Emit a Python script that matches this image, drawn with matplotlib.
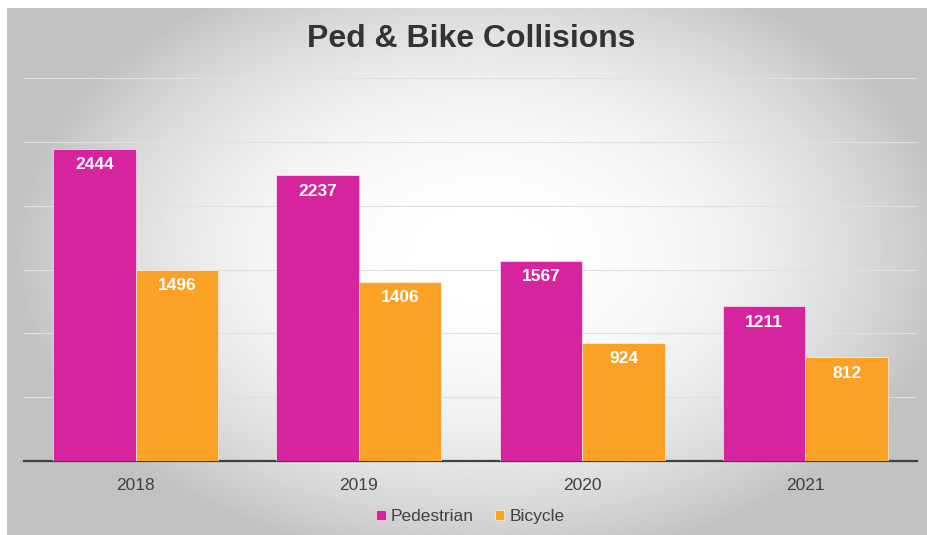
import numpy as np
import matplotlib.pyplot as plt

years = ["2018", "2019", "2020", "2021"]
pedestrian = [2444, 2237, 1567, 1211]
bicycle = [1496, 1406, 924, 812]

ped_color = "#d6249f"
bike_color = "#fba226"

plt.rcParams["font.family"] = ["Liberation Sans", "DejaVu Sans"]

fig = plt.figure(figsize=(9.28, 5.35), dpi=100)

# radial gradient background of the chart frame
bg = fig.add_axes([0.008, 0.0, 0.992, 0.985], zorder=-1)
yy, xx = np.mgrid[0:535, 0:928]
d = np.sqrt(((xx - 480) / 540.0) ** 2 + ((yy - 250) / 360.0) ** 2)
shade = np.clip(1.0 - 0.32 * d ** 2.2, 0.76, 1.0)
bg.imshow(shade, cmap="gray", vmin=0, vmax=1, aspect="auto", extent=[0, 1, 0, 1])
bg.set_axis_off()

ax = fig.add_axes([24 / 928, 1 - 461 / 535, 893 / 928, 383 / 535])
ax.patch.set_alpha(0)

x = np.arange(len(years))
w = 0.37
b1 = ax.bar(x - w / 2, pedestrian, w, color=ped_color, label="Pedestrian", zorder=3,
            edgecolor="white", linewidth=0.4)
b2 = ax.bar(x + w / 2, bicycle, w, color=bike_color, label="Bicycle", zorder=3,
            edgecolor="white", linewidth=0.4)

for bars, vals in [(b1, pedestrian), (b2, bicycle)]:
    for r, v in zip(bars, vals):
        ax.annotate(str(v), (r.get_x() + r.get_width() / 2, v), xytext=(0, -6),
                    textcoords="offset points", ha="center", va="top",
                    color="white", fontsize=12.5, fontweight="bold", zorder=4)

ax.set_xlim(-0.5, 3.5)
ax.set_ylim(0, 3000)
ax.set_yticks(range(0, 3001, 500))
ax.yaxis.grid(True, color="#e0e0e0", linewidth=0.8, zorder=0)
ax.tick_params(axis="y", left=False, labelleft=False)
ax.set_xticks(x)
ax.set_xticklabels(years, fontsize=12.5, color="#404040")
ax.tick_params(axis="x", length=0, pad=12)
for s in ["top", "right", "left"]:
    ax.spines[s].set_visible(False)
ax.spines["bottom"].set_color("#404040")
ax.spines["bottom"].set_linewidth(1.6)

fig.text(0.508, 0.927, "Ped & Bike Collisions", ha="center", va="center",
         fontsize=23, fontweight="bold", color="#333333")

ax.legend(loc="center", bbox_to_anchor=(0.5, -0.145), ncol=2, frameon=False,
          fontsize=12.5, handlelength=0.55, handleheight=0.55, handletextpad=0.3,
          columnspacing=1.2, labelcolor="#404040")

fig.savefig("out.png", dpi=100)
